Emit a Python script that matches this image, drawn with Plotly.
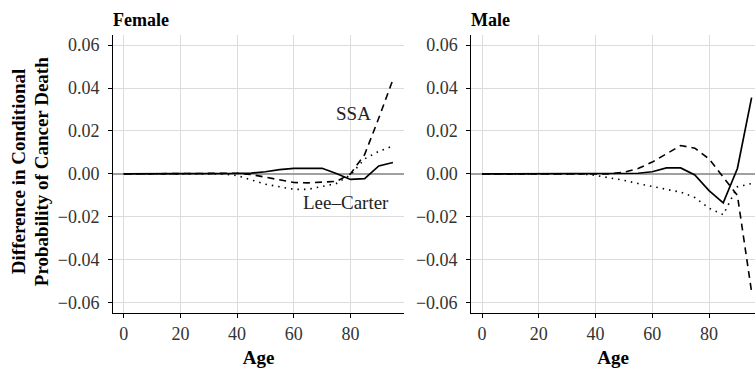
import plotly.graph_objects as go

ages = [0, 5, 10, 15, 20, 25, 30, 35, 40, 45, 50, 55, 60, 65, 70, 75, 80, 85, 90, 95]

female_model = [0, 0, 0, 0, 0, 0, 0, 0, 0.0002, 0.0004, 0.001, 0.002, 0.0026, 0.0026, 0.0026, 0.0002, -0.0026, -0.0022, 0.0037, 0.0053]
female_ssa = [0, 0, 0, 0, 0, 0, 0, 0.0002, 0.0003, -0.0003, -0.0015, -0.003, -0.004, -0.0042, -0.004, -0.0035, 0.0, 0.009, 0.026, 0.044]
female_lc = [0, 0, 0, 0, 0, 0, 0, 0, -0.0008, -0.0028, -0.0048, -0.006, -0.0072, -0.0072, -0.006, -0.0045, -0.0005, 0.007, 0.0105, 0.013]

male_model = [0, 0, 0, 0, 0, 0, 0, 0, 0, 0, 0.0001, 0.0003, 0.001, 0.0028, 0.0028, -0.0005, -0.0078, -0.0135, 0.0025, 0.0355]
male_ssa = [0, 0, 0, 0, 0, 0, 0, 0, 0, 0, 0.0008, 0.0025, 0.0055, 0.0095, 0.0132, 0.012, 0.007, -0.0015, -0.010, -0.055]
male_lc = [0, 0, 0, 0, 0, 0, 0, 0, -0.0007, -0.0017, -0.003, -0.0045, -0.006, -0.0072, -0.0085, -0.011, -0.016, -0.019, -0.006, -0.0045]

panel_titles = ["Female", "Male"]
x_ticks = [0, 20, 40, 60, 80]
y_ticks = [-0.06, -0.04, -0.02, 0.0, 0.02, 0.04, 0.06]
y_ticktext = ["\u22120.06", "\u22120.04", "\u22120.02", "0.00", "0.02", "0.04", "0.06"]
y_title_lines = ["Difference in Conditional", "Probability of Cancer Death"]

FONT = "Liberation Serif"
DASH = "7px,5px"
DOT = "1.5px,5px"

fig = go.Figure()

def add_panel(model, ssa, lc, xa, ya):
    fig.add_trace(go.Scatter(x=ages, y=lc, mode="lines", xaxis=xa, yaxis=ya,
                             line=dict(color="black", width=1.6, dash=DOT), showlegend=False))
    fig.add_trace(go.Scatter(x=ages, y=ssa, mode="lines", xaxis=xa, yaxis=ya,
                             line=dict(color="black", width=1.6, dash=DASH), showlegend=False))
    fig.add_trace(go.Scatter(x=ages, y=model, mode="lines", xaxis=xa, yaxis=ya,
                             line=dict(color="black", width=1.7), showlegend=False))

add_panel(female_model, female_ssa, female_lc, "x", "y")
add_panel(male_model, male_ssa, male_lc, "x2", "y2")

xcommon = dict(tickvals=x_ticks, ticks="outside", ticklen=4, tickcolor="black",
               showline=True, linecolor="black", linewidth=1,
               showgrid=True, gridcolor="#dcdcdc", gridwidth=1, zeroline=False,
               tickfont=dict(family=FONT, size=18, color="#333"),
               title=dict(text="<b>Age</b>", font=dict(family=FONT, size=19, color="black"), standoff=8))
ycommon = dict(range=[-0.0648, 0.0647], tickvals=y_ticks, ticktext=y_ticktext,
               ticks="outside", ticklen=4, tickcolor="black", ticklabelstandoff=5,
               showline=True, linecolor="black", linewidth=1,
               showgrid=True, gridcolor="#dcdcdc", gridwidth=1,
               zeroline=True, zerolinecolor="#a0a0a0", zerolinewidth=2,
               tickfont=dict(family=FONT, size=18, color="#333"))

fig.update_layout(
    width=755, height=372,
    margin=dict(l=113, r=0, t=35, b=59),
    paper_bgcolor="white", plot_bgcolor="white",
    xaxis=dict(domain=[0, 0.4533], range=[-3.8, 98.9], anchor="y", **xcommon),
    yaxis=dict(domain=[0, 1], anchor="x", **ycommon),
    xaxis2=dict(domain=[0.558, 1], range=[-3.8, 96.2], anchor="y2", **xcommon),
    yaxis2=dict(domain=[0, 1], anchor="x2", **ycommon),
    font=dict(family=FONT, color="black"),
)

ymid = (312.7 - 172) / 277.7
annotations = [
    dict(text="<b>" + panel_titles[0] + "</b>", xref="paper", yref="paper", x=0.0, y=1.0,
         xanchor="left", yanchor="bottom", yshift=3, xshift=-2, showarrow=False,
         font=dict(family=FONT, size=18, color="black")),
    dict(text="<b>" + panel_titles[1] + "</b>", xref="paper", yref="paper", x=0.558, y=1.0,
         xanchor="left", yanchor="bottom", yshift=3, xshift=-2, showarrow=False,
         font=dict(family=FONT, size=18, color="black")),
    dict(text="<b>" + y_title_lines[0] + "</b>", xref="paper", yref="paper",
         x=(18 - 113) / 642, y=ymid, xanchor="center", yanchor="middle", textangle=-90, showarrow=False,
         font=dict(family=FONT, size=19, color="black")),
    dict(text="<b>" + y_title_lines[1] + "</b>", xref="paper", yref="paper",
         x=(41 - 113) / 642, y=ymid, xanchor="center", yanchor="middle", textangle=-90, showarrow=False,
         font=dict(family=FONT, size=19, color="black")),
    dict(text="SSA", xref="x", yref="y", x=81.1, y=0.0283, showarrow=False,
         font=dict(family=FONT, size=19, color="#222")),
    dict(text="Lee\u2013Carter", xref="x", yref="y", x=78.5, y=-0.0134, showarrow=False,
         font=dict(family=FONT, size=19, color="#222")),
]
fig.update_layout(annotations=annotations)

fig.write_html("out.html")
